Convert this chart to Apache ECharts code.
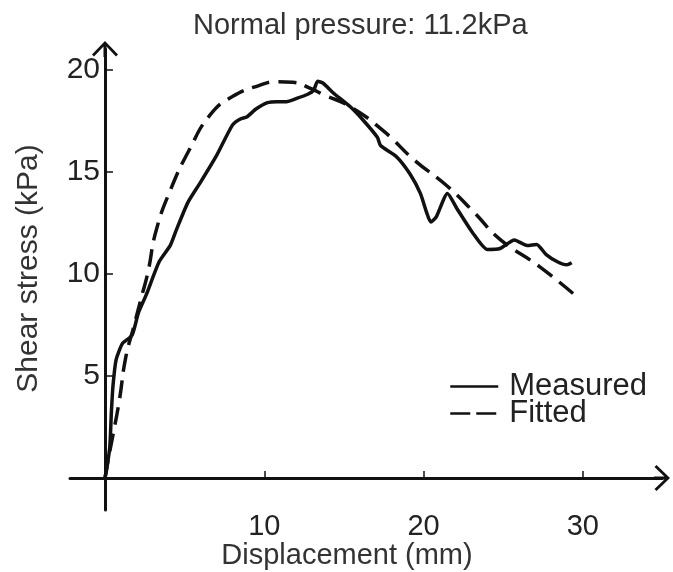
<!DOCTYPE html>
<html>
<head>
<meta charset="utf-8">
<script src="https://cdn.jsdelivr.net/npm/echarts@6/dist/echarts.min.js"></script>
<style>
html,body{margin:0;padding:0;background:#fff;}
#chart{width:673px;height:572px;}
</style>
</head>
<body>
<div id="chart"></div>
<script>
var titleText = 'Normal pressure: 11.2kPa';
var xName = 'Displacement (mm)';
var yName = 'Shear stress (kPa)';
var xTicks = [10, 20, 30];
var yTicks = [5, 10, 15, 20];

var measuredX = [0, 0.1, 0.3, 0.4, 0.5, 0.7, 1.1, 1.7, 2.1, 2.6, 3.4, 4.1, 4.5, 5.2, 6.0, 7.0, 8.0, 8.5, 8.9, 9.5, 10.2, 10.8, 11.4, 12.0, 12.7, 13.1, 13.35, 13.7, 14.3, 15.4, 16.2, 17.1, 17.3, 18.3, 19.15, 19.8, 20.2, 20.45, 20.8, 21.5, 22.1, 23.1, 24.0, 24.8, 25.7, 26.5, 27.1, 27.7, 28.4, 29.0, 29.3];
var measuredY = [0, 0.4, 1.5, 3.2, 4.5, 5.8, 6.6, 7.0, 8.1, 9.0, 10.6, 11.4, 12.2, 13.5, 14.5, 15.8, 17.3, 17.6, 17.7, 18.1, 18.4, 18.45, 18.45, 18.6, 18.8, 19.0, 19.45, 19.35, 18.9, 18.2, 17.55, 16.7, 16.3, 15.75, 14.9, 13.95, 13.0, 12.55, 12.8, 13.95, 13.2, 12.0, 11.2, 11.25, 11.67, 11.4, 11.45, 10.95, 10.6, 10.45, 10.55];

var fittedX = [0, 0.2, 0.45, 0.9, 1.3, 1.8, 2.3, 2.7, 3.2, 4.1, 5.3, 6.6, 8.0, 9.7, 10.8, 11.8, 12.9, 13.7, 15.4, 17.5, 19.4, 21.5, 23.2, 24.8, 27.3, 29.6];
var fittedY = [0, 0.9, 1.9, 3.8, 5.9, 7.4, 8.9, 10.1, 12.1, 14.1, 16.1, 17.8, 18.7, 19.25, 19.43, 19.4, 19.1, 18.8, 18.2, 17.0, 15.6, 14.3, 13.0, 11.7, 10.35, 8.9];

function pairs(xs, ys) { return xs.map(function (x, i) { return [x, ys[i]]; }); }

var FONT = 'Liberation Sans, Arial, sans-serif';
var arrowPath = 'path://M13,0 L26,13.5 L24,15.5 L14.5,5.6 L14.5,16 L11.5,16 L11.5,5.6 L2,15.5 L0,13.5 Z';
var hiddenSymbol = {color: 'rgba(0,0,0,0)', borderWidth: 0, opacity: 0};

var chart = echarts.init(document.getElementById('chart'), null, {renderer: 'canvas'});
chart.setOption({
  animation: false,
  backgroundColor: '#fff',
  title: {
    text: titleText, left: 188, top: 6,
    textStyle: {fontFamily: FONT, fontSize: 29, fontWeight: 'normal', color: '#333'}
  },
  legend: [
    {
      data: ['Measured'], left: 444, top: 366, itemWidth: 48, itemHeight: 14,
      itemStyle: hiddenSymbol,
      textStyle: {fontFamily: FONT, fontSize: 31, color: '#222', padding: [0, 0, 0, 6]},
      lineStyle: {width: 2.5}
    },
    {
      data: ['Fitted'], left: 444, top: 393, itemWidth: 48, itemHeight: 14,
      itemStyle: hiddenSymbol,
      textStyle: {fontFamily: FONT, fontSize: 31, color: '#222', padding: [0, 0, 0, 6]},
      lineStyle: {width: 2.5, type: [20, 6]}
    }
  ],
  grid: {left: 70, right: 11, top: 49, bottom: 62, containLabel: false, outerBoundsMode: 'none'},
  xAxis: {
    type: 'value', min: -2.197, max: 34.97,
    name: xName, nameLocation: 'middle', nameGap: 31, nameMoveOverlap: false,
    nameTextStyle: {fontFamily: FONT, fontSize: 29, color: '#333', padding: [0, 38, 0, 0]},
    axisLine: {onZero: true, lineStyle: {color: '#111', width: 3}, symbol: ['none', arrowPath], symbolSize: [26, 16]},
    axisTick: {show: true, inside: true, length: 7, customValues: xTicks, lineStyle: {color: '#111', width: 1.5}},
    axisLabel: {customValues: xTicks, fontFamily: FONT, fontSize: 29, color: '#222', margin: 2},
    splitLine: {show: false}
  },
  yAxis: {
    type: 'value', min: -1.57, max: 21.03,
    name: yName, nameLocation: 'middle', nameGap: 26, nameRotate: 90, nameMoveOverlap: false,
    nameTextStyle: {fontFamily: FONT, fontSize: 30, color: '#333', padding: [0, 0, 0, 22]},
    axisLine: {onZero: true, lineStyle: {color: '#111', width: 3}, symbol: ['none', arrowPath], symbolSize: [26, 16]},
    axisTick: {show: true, inside: true, length: 8, customValues: yTicks, lineStyle: {color: '#111', width: 1.5}},
    axisLabel: {customValues: yTicks, fontFamily: FONT, fontSize: 30, color: '#222', margin: -30},
    splitLine: {show: false}
  },
  series: [
    {
      name: 'Measured', type: 'line', data: pairs(measuredX, measuredY),
      symbol: 'none', smooth: 0.2,
      lineStyle: {color: '#111', width: 3.5}, itemStyle: {color: '#111'}
    },
    {
      name: 'Fitted', type: 'line', data: pairs(fittedX, fittedY),
      symbol: 'none', smooth: true,
      lineStyle: {color: '#111', width: 3.5, type: [18, 9]}, itemStyle: {color: '#111'}
    }
  ]
});
</script>
</body>
</html>
